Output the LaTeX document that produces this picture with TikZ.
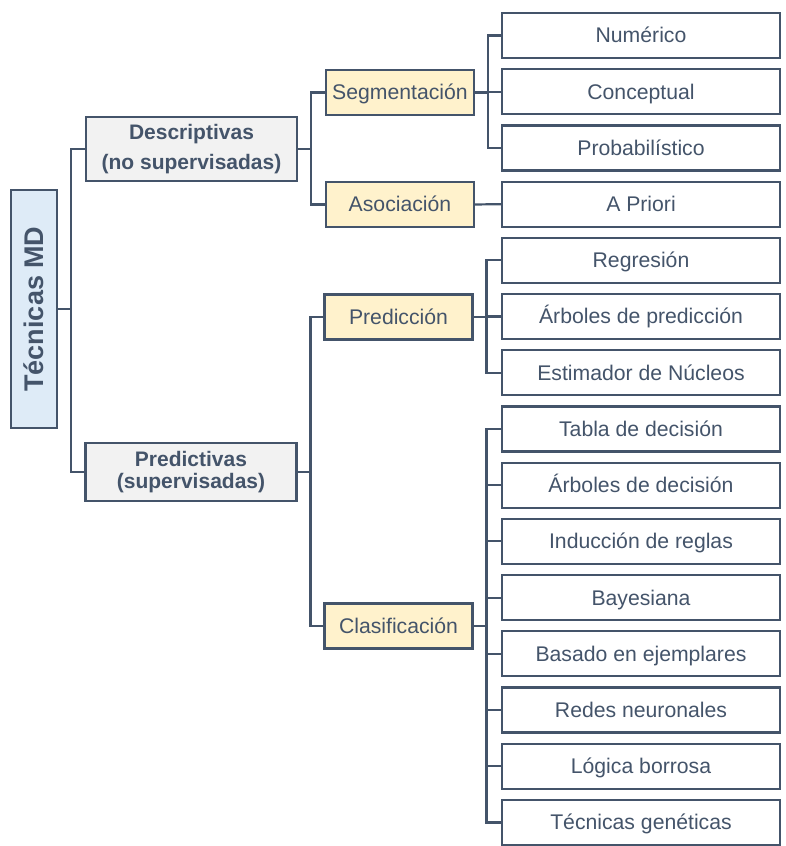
\documentclass[tikz,border=0pt]{standalone}
\usepackage{fontspec}
\setmainfont{Liberation Sans}
\definecolor{ln}{HTML}{44546A}
\definecolor{rootfill}{HTML}{DEEBF7}
\definecolor{grayfill}{HTML}{F2F2F2}
\definecolor{yelfill}{HTML}{FFF2CC}
\begin{document}
\begin{tikzpicture}[x=1pt,y=-1pt,
  box/.style={draw=ln, line width=2.2pt, text=ln, inner sep=0pt, outer sep=0pt,
    minimum height=45pt, text height=19.3pt, text depth=4.5pt,
    font=\fontsize{21.2}{24}\selectfont},
  leaf/.style={box, fill=white, minimum width=278pt},
  mid/.style={box, fill=yelfill, minimum width=148pt},
  lvlone/.style={draw=ln, line width=2.2pt, text=ln, inner sep=0pt, outer sep=0pt,
    fill=grayfill, minimum width=211pt, align=center},
  rootbox/.style={draw=ln, line width=2.2pt, text=ln, inner sep=0pt, outer sep=0pt,
    fill=rootfill, minimum width=238pt, minimum height=46pt, rotate=90,
    text height=24.4pt, text depth=5.7pt,
    font=\bfseries\fontsize{27}{30}\selectfont},
  conn/.style={draw=ln, line width=2.2pt}]
\useasboundingbox (0,0) rectangle (786,846);

\node[rootbox] (root) at (34,309) {Técnicas MD};
\node[lvlone, minimum height=64pt, font=\bfseries\fontsize{21}{30}\selectfont] (desc) at (191.5,149) {Descriptivas\\(no supervisadas)};
\node[lvlone, minimum height=58pt, font=\bfseries\fontsize{21}{22}\selectfont] (predv) at (191,472) {Predictivas\\(supervisadas)};

\node[mid] (seg) at (400,92.5) {Segmentación};
\node[mid] (aso) at (400,204.5) {Asociación};
\node[mid] (pre) at (398.5,317) {Predicción};
\node[mid] (cla) at (398.5,626) {Clasificación};

\foreach \i/\t in {1/Numérico,2/Conceptual,3/Probabilístico,4/A Priori,
  5/Regresión,6/Árboles de predicción,7/Estimador de Núcleos,
  8/Tabla de decisión,9/Árboles de decisión,10/Inducción de reglas,
  11/Bayesiana,12/Basado en ejemplares,13/Redes neuronales,
  14/Lógica borrosa,15/Técnicas genéticas}
  \node[leaf] (l\i) at (641,{35.5+56.21*(\i-1)}) {\t};

\foreach \n in {desc,predv}
  \draw[conn] (root.south) -- ++(14,0) |- (\n.west);
\foreach \n in {seg,aso}
  \draw[conn] (desc.east) -- ++(14,0) |- (\n.west);
\foreach \n in {pre,cla}
  \draw[conn] (predv.east) -- ++(14,0) |- (\n.west);
\foreach \i in {1,2,3}
  \draw[conn] (seg.east) -- ++(14,0) |- (l\i.west);
\draw[conn] (aso.east) -- (l4.west);
\foreach \i in {5,6,7}
  \draw[conn] (pre.east) -- ++(14,0) |- (l\i.west);
\foreach \i in {8,...,15}
  \draw[conn] (cla.east) -- ++(14,0) |- (l\i.west);
\end{tikzpicture}
\end{document}
